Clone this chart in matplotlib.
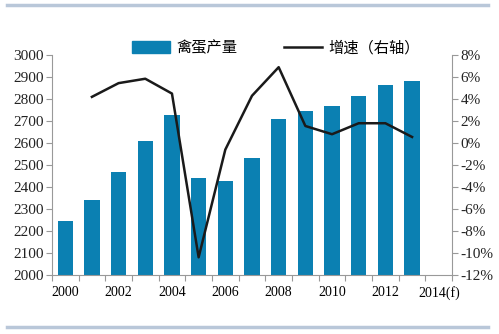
import numpy as np
import matplotlib.pyplot as plt
from matplotlib.lines import Line2D
from matplotlib.patches import Patch

plt.rcParams['font.family'] = ['Liberation Serif', 'Noto Sans CJK SC']

years = ['2000', '2001', '2002', '2003', '2004', '2005', '2006', '2007',
         '2008', '2009', '2010', '2011', '2012', '2013', '2014(f)']
output = [2247, 2341, 2467, 2610, 2727, 2442, 2429, 2532,
          2708, 2747, 2768, 2815, 2865, 2882]
growth = [4.2, 5.45, 5.85, 4.5, -10.4, -0.6, 4.3,
          6.9, 1.55, 0.8, 1.8, 1.8, 0.55]

bar_color = '#0b80b2'
axis_color = '#999999'

fig = plt.figure(figsize=(4.99, 3.34), dpi=100)
ax = fig.add_axes([0.104, 0.177, 0.802, 0.658])
x = np.arange(len(years))
ax.bar(x[:len(output)], output, width=0.57, color=bar_color, zorder=2)
ax.set_ylim(2000, 3000)
ax.set_yticks(np.arange(2000, 3001, 100))
ax.set_xlim(-0.5, len(years) - 0.5)
ax.set_xticks(np.arange(-0.5, len(years), 1))
ax.set_xticklabels([])
ax.set_xticks(x[::2], minor=True)
ax.set_xticklabels(years[::2], minor=True)
ax.tick_params(axis='x', which='minor', length=0, pad=8)
ax.tick_params(axis='x', which='major', length=4, color=axis_color)
ax.tick_params(axis='y', length=4, color=axis_color, pad=2)
ax.tick_params(labelsize=11, labelcolor='#222222')
for s in ['top', 'right']:
    ax.spines[s].set_visible(False)
for s in ['left', 'bottom']:
    ax.spines[s].set_color(axis_color)

ax2 = ax.twinx()
ax2.plot(x[1:1 + len(growth)], growth, color='#1a1a1a', lw=1.8, zorder=3)
ax2.set_ylim(-12, 8)
ax2.set_yticks(np.arange(-12, 9, 2))
ax2.set_yticklabels(['%d%%' % v for v in range(-12, 9, 2)])
ax2.tick_params(axis='y', length=4, color=axis_color, labelsize=11,
                labelcolor='#222222', pad=2)
for s in ['top', 'left', 'bottom']:
    ax2.spines[s].set_visible(False)
ax2.spines['right'].set_color(axis_color)

handles = [Patch(color=bar_color), Line2D([], [], color='#1a1a1a', lw=1.8)]
fig.legend(handles, ['禽蛋产量', '增速（右轴）'], loc='center',
           bbox_to_anchor=(0.553, 0.857), ncol=2, frameon=False,
           fontsize=11, handlelength=2.5, handleheight=0.8,
           columnspacing=3.0, handletextpad=0.45)

line_color = '#b9c7d9'
fig.add_artist(Line2D([0.014, 0.978], [0.985, 0.985], color=line_color, lw=2.5))
fig.add_artist(Line2D([0.014, 0.978], [0.02, 0.02], color=line_color, lw=2.5))

fig.savefig('out.png', dpi=100)
